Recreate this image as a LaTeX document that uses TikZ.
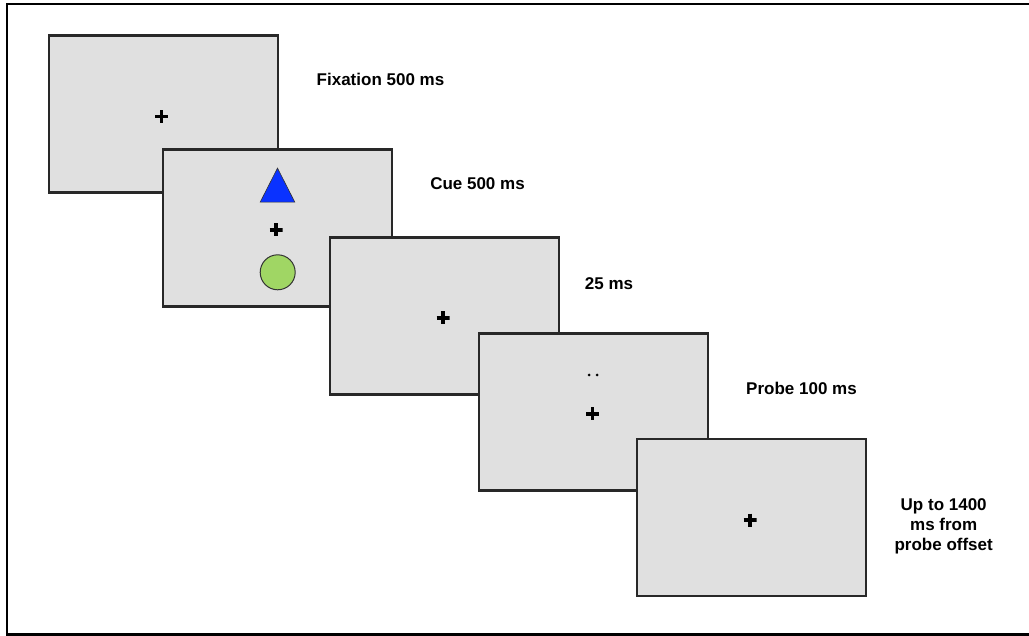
\documentclass[tikz,border=0pt]{standalone}
\usepackage{fontspec}
\setmainfont{Liberation Sans}
\usetikzlibrary{shapes.geometric}
\definecolor{screengray}{RGB}{224,224,224}
\definecolor{edgegray}{RGB}{40,40,40}
\definecolor{cueblue}{RGB}{10,50,255}
\definecolor{cuegreen}{RGB}{160,214,100}
\begin{document}
\begin{tikzpicture}[x=1pt,y=-1pt,
  screen/.style={draw=edgegray,fill=screengray,line width=2.2pt,rectangle,
    minimum width=229pt,minimum height=157pt,inner sep=0pt},
  fixcross/.style={minimum size=13pt,inner sep=0pt,
    path picture={\draw[black,line width=3.2pt]
      (path picture bounding box.north) -- (path picture bounding box.south)
      (path picture bounding box.west) -- (path picture bounding box.east);}},
  lbl/.style={font=\fontsize{17}{20}\selectfont\bfseries,text=black,inner sep=0pt,align=center},
  dotm/.style={circle,fill=black,minimum size=3pt,inner sep=0pt}
]
\useasboundingbox (0,0) rectangle (1029,636);
\draw[black,line width=2.5pt] (1035,4) -- (7,4) -- (7,634.5) -- (1035,634.5);

% screen 1
\node[screen] (s1) at (163.5,114) {};
\node[fixcross] (c1) at (161.7,116.7) {};
% screen 2
\node[screen] (s2) at (277.5,228) {};
\node[draw=black!80,fill=cueblue,line width=0.6pt,isosceles triangle,isosceles triangle apex angle=54,
  shape border rotate=90,minimum height=34pt,inner sep=0pt,anchor=apex] (tri) at (277.5,167.5) {};
\node[fixcross] (c2) at (276,230) {};
\node[draw=black!80,fill=cuegreen,line width=1pt,circle,minimum size=35pt,inner sep=0pt] (circ) at (277.7,272.3) {};
% screen 3
\node[screen] (s3) at (444.5,316) {};
\node[fixcross] (c3) at (443,318) {};
% screen 4
\node[screen] (s4) at (593.5,412) {};
\node[dotm] (d1) at (589,375) {};
\node[dotm] (d2) at (597,375) {};
\node[fixcross] (c4) at (592.7,414) {};
% screen 5
\node[screen] (s5) at (751.5,517.5) {};
\node[fixcross] (c5) at (750,520) {};

% labels
\node[lbl] (l1) at (380.5,79) {Fixation 500 ms};
\node[lbl] (l2) at (477.5,184) {Cue 500 ms};
\node[lbl] (l3) at (609,284) {25 ms};
\node[lbl] (l4) at (801.5,388) {Probe 100 ms};
\node[lbl] (l5) at (943.7,526) {Up to 1400\\ms from\\probe offset};
\end{tikzpicture}
\end{document}
